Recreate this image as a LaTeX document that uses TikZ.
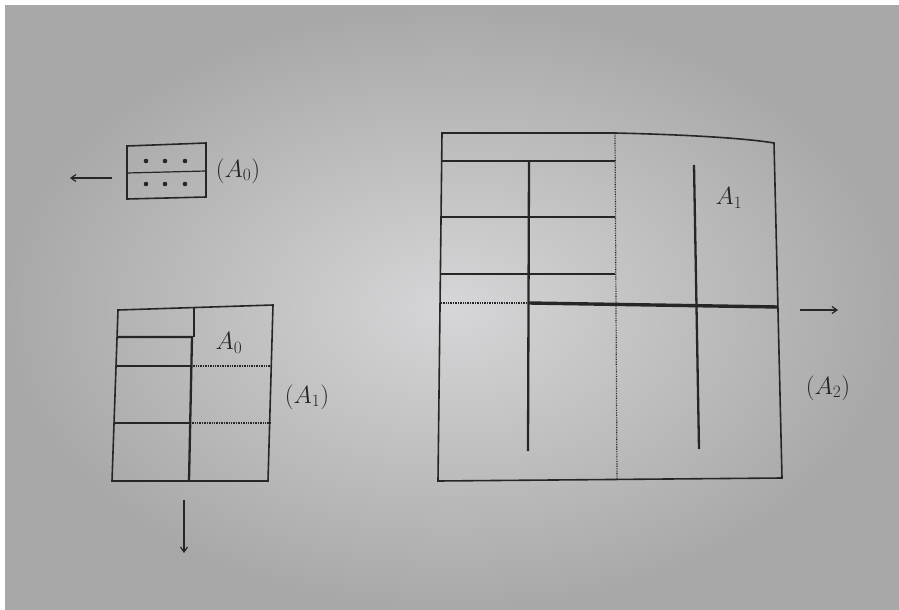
\documentclass[tikz,border=0pt]{standalone}
\usepackage{amsmath, amssymb}
\usepackage{tikz}
\usetikzlibrary{arrows.meta, positioning, calc}

\definecolor{ink}{RGB}{38,38,38}
\definecolor{pagein}{RGB}{214,214,216}
\definecolor{pageout}{RGB}{168,168,168}

\begin{document}
\begin{tikzpicture}[
                x=1pt, y=-1pt,
                frame/.style={draw=ink, line width=1.6pt, line join=miter},
                thinline/.style={draw=ink, line width=1.2pt},
                boldline/.style={draw=ink, line width=2.3pt},
                heavyline/.style={draw=ink, line width=3.4pt},
                dotline/.style={draw=ink, line width=1.2pt, dash pattern=on 0.8pt off 0.9pt},
                arrow/.style={-{Straight Barb[length=5pt, width=7pt]}, draw=ink, line width=1.2pt},
                lbl/.style={text=ink, font=\fontsize{25}{28}\selectfont, inner sep=0pt}
            ]
                \useasboundingbox (0,0) rectangle (899,610);
                \fill[white] (0,0) rectangle (899,610);
                \shade[inner color=pagein, outer color=pageout] (5,6) rectangle (899,610);

                % small box (A_0)
                \draw[frame] (127,146) -- (206,143) -- (206,197) -- (127,199) -- cycle;
                \draw[thinline] (127,173) -- (206,171);
                \foreach \dx in {146,165,185} {
                    \fill[ink] (\dx,161) circle (2.3);
                    \fill[ink] (\dx,184) circle (2.3);
                }
                \node[lbl] (lblA0) at (238,171) {$(A_0)$};
                \coordinate (lA) at (112,178);
                \coordinate (lB) at (70,178);
                \draw[arrow] (lA) -- (lB);

                % middle box (A_1)
                \draw[frame] (118,310) -- (273,305) -- (268,481) -- (112,481) -- cycle;
                \draw[thinline] (194,307) -- (194,337);
                \draw[boldline] (117,337) -- (192,337) -- (189,481);
                \draw[thinline] (116,366) -- (191,366);
                \draw[dotline] (191,366) -- (271,366);
                \draw[thinline] (114,423) -- (190,423);
                \draw[dotline] (190,423) -- (270,423);
                \node[lbl] (inA0) at (229,343) {$A_0$};
                \node[lbl] (lblA1) at (307,397) {$(A_1)$};
                \coordinate (dA) at (184,500);
                \coordinate (dB) at (184,553);
                \draw[arrow] (dA) -- (dB);

                % big box (A_2)
                \draw[frame] (442,133) -- (615,133) .. controls (700,135) and (750,139) .. (774,143)
                    -- (782,478) -- (438,481) -- cycle;
                \foreach \hy in {161,217,274} {
                    \draw[thinline] (441,\hy) -- (615,\hy);
                }
                \draw[dotline] (615,133) -- (617,480);
                \draw[boldline] (529,161) -- (528,451);
                \draw[dotline] (441,303) -- (529,303);
                \draw[heavyline] (529,303) -- (778,307);
                \draw[boldline] (694,165) -- (699,449);
                \node[lbl] (inA1) at (729,198) {$A_1$};
                \node[lbl] (lblA2) at (828,388) {$(A_2)$};
                \coordinate (rA) at (800,310);
                \coordinate (rB) at (838,310);
                \draw[arrow] (rA) -- (rB);
            \end{tikzpicture}
\end{document}
